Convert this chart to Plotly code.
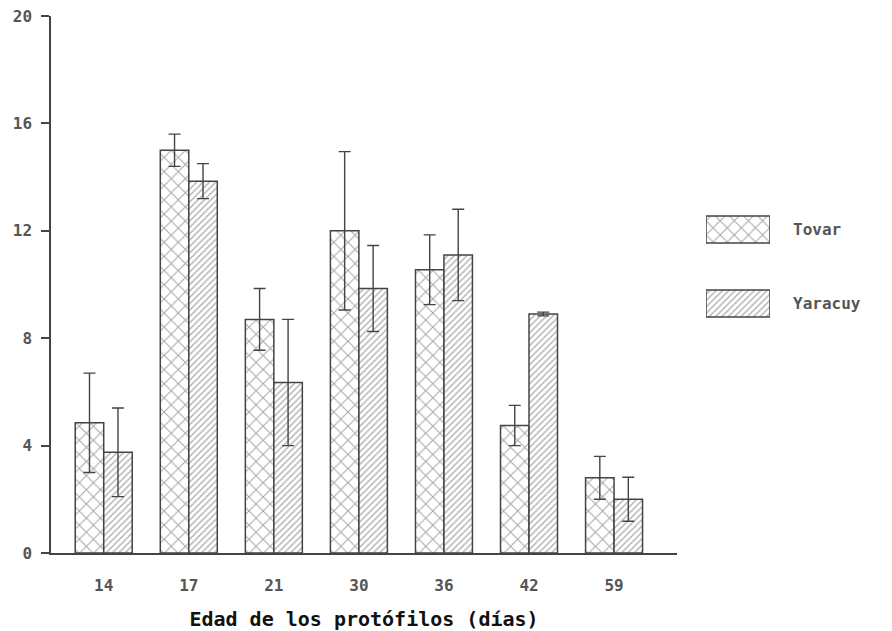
import plotly.graph_objects as go

# Protophyll age (days) and mean values per provenance, with error half-widths
days = ["14", "17", "21", "30", "36", "42", "59"]
tovar = [4.85, 15.0, 8.7, 12.0, 10.55, 4.75, 2.8]
tovar_err = [1.85, 0.6, 1.15, 2.95, 1.3, 0.75, 0.8]
yaracuy = [3.75, 13.85, 6.35, 9.85, 11.1, 8.9, 2.0]
yaracuy_err = [1.65, 0.65, 2.35, 1.6, 1.7, 0.07, 0.82]

series_names = ["Tovar", "Yaracuy"]
series_patterns = ["x", "/"]

FONT = "DejaVu Sans Mono"
INK = "#444444"
LABEL = "#555555"

W, H = 892, 631
ML, MR, MT, MB = 51, 0, 16, 78
pw, ph = W - ML - MR, H - MT - MB


def px_x(a, b):
    return [(a - ML) / pw, (b - ML) / pw]


def px_y(top, bottom):
    return [(H - MB - bottom) / ph, (H - MB - top) / ph]


cross = dict(shape="x", size=10, solidity=0.2, fgcolor="#505050", bgcolor="white")
hatch = dict(shape="/", size=4.5, solidity=0.3, fgcolor="#5c5c5c", bgcolor="white")

fig = go.Figure()

err_style = dict(type="data", color=INK, thickness=1.4, width=6, visible=True)

fig.add_trace(go.Bar(
    x=days, y=tovar, name="Tovar",
    error_y=dict(array=tovar_err, **err_style),
    marker=dict(color="white", line=dict(color=INK, width=1.5), pattern=cross),
    xaxis="x", yaxis="y",
))
fig.add_trace(go.Bar(
    x=days, y=yaracuy, name="Yaracuy",
    error_y=dict(array=yaracuy_err, **err_style),
    marker=dict(color="white", line=dict(color=INK, width=1.5), pattern=hatch),
    xaxis="x", yaxis="y",
))

# Key: one patterned swatch per series on its own small axes
fig.add_trace(go.Bar(
    y=series_names, x=[1, 1], orientation="h",
    width=0.365, offset=-0.1825,
    marker=dict(color="white", line=dict(color=INK, width=1.5),
                pattern=dict(shape=series_patterns,
                             size=[cross["size"], hatch["size"]],
                             solidity=[cross["solidity"], hatch["solidity"]],
                             fgcolor=[cross["fgcolor"], hatch["fgcolor"]],
                             bgcolor="white")),
    xaxis="x2", yaxis="y2", hoverinfo="skip",
))

fig.update_layout(
    width=W, height=H,
    margin=dict(l=ML, r=MR, t=MT, b=MB, pad=0),
    paper_bgcolor="white", plot_bgcolor="white",
    showlegend=False,
    barmode="group", bargap=0.33, bargroupgap=0,
    font=dict(family=FONT, size=15, color=LABEL, weight="bold"),
    xaxis=dict(
        domain=px_x(51, 677),
        type="category", range=[-0.62, 6.74],
        showline=True, linecolor=INK, linewidth=1.5,
        showgrid=False, zeroline=False, ticks="",
        ticklabelstandoff=17,
        tickfont=dict(family=FONT, size=16, color=LABEL, weight="bold"),
        title=dict(text="Edad de los protófilos (días)", standoff=22,
                   font=dict(family=FONT, size=20, color="#111111",
                             weight="bold")),
    ),
    yaxis=dict(
        domain=[0, 1],
        range=[0, 20], tickvals=[0, 4, 8, 12, 16, 20],
        showline=True, linecolor=INK, linewidth=1.5,
        showgrid=False, zeroline=False,
        ticks="outside", ticklen=8, tickcolor=INK, tickwidth=1.5,
        ticklabelstandoff=6,
        tickfont=dict(family=FONT, size=16, color=LABEL, weight="bold"),
    ),
    xaxis2=dict(
        domain=px_x(706, 770), anchor="y2", range=[0, 1],
        visible=False, fixedrange=True,
    ),
    yaxis2=dict(
        domain=px_y(192.5, 340.5), anchor="x2",
        type="category", range=[1.5, -0.5],
        side="right", showline=False, showgrid=False, zeroline=False,
        ticks="", ticklabelstandoff=22,
        tickfont=dict(family=FONT, size=16, color=LABEL, weight="bold"),
    ),
)

fig.write_html("out.html")
